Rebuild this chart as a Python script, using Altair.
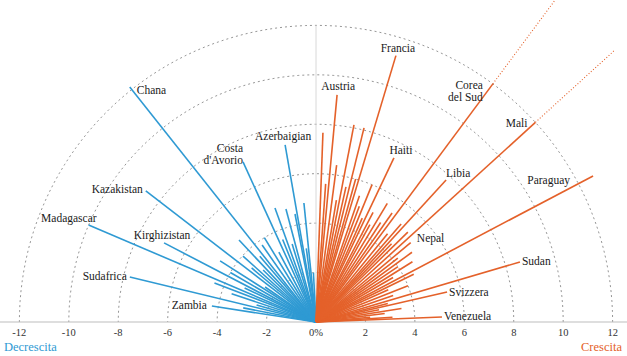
import altair as alt
import pandas as pd

# ---------------- data ----------------
# Decrescita (blue): angle in degrees (0 = right, 180 = left), value = change %
blue_names = ["Zambia", "", "Sudafrica", "", "", "", "Madagascar", "", "Kirghizistan", "", "",
              "", "Kazakistan", "", "", "", "", "", "Chana", "", "", "", "Costa\nd'Avorio", "",
              "", "", "", "", "Azerbaigian", "", "", ""]
blue_angles = [171.3, 169.0, 166.4, 164.0, 161.5, 159.0, 156.9, 154.5, 152.5, 150.0, 147.5,
               145.5, 142.4, 140.0, 137.9, 135.5, 133.2, 130.5, 128.4, 125.0, 121.5, 118.0, 114.5, 112.0,
               109.8, 107.0, 104.9, 101.0, 99.9, 97.5, 95.8, 93.0]
blue_values = [-4.26, -3.0, -7.75, -2.5, -3.6, -4.4, -10.0, -3.2, -6.93, -4.0, -4.6,
               -2.5, -8.69, -3.4, -3.98, -3.0, -4.55, -3.5, -12.13, -3.8, -4.0, -3.2, -7.12, -3.6,
               -4.9, -3.3, -4.73, -4.45, -7.27, -3.0, -4.84, -2.0]

# Crescita (orange)
orange_names = ["Venezuela", "", "", "", "", "", "Svizzera", "", "Sudan", "", "", "", "",
                "Paraguay", "", "", "", "", "", "", "Mali", "Nepal", "", "Libia", "", "",
                "Corea\ndel Sud", "", "", "", "", "", "Haiti", "", "", "", "", "Francia", "",
                "", "", "", "", "", "Austria", "", ""]
orange_angles = [2.3, 3.5, 5.0, 7.0, 9.0, 11.0, 12.9, 14.5, 16.4, 19.0, 21.5, 24.0, 26.0,
                 27.8, 30.0, 32.0, 34.0, 36.0, 38.0, 40.0, 42.3, 44.4, 46.0, 47.5, 49.0, 51.0,
                 53.4, 55.1, 57.0, 59.0, 61.0, 62.5, 64.6, 66.0, 67.8, 69.5, 71.0, 73.3, 74.5,
                 76.1, 77.5, 79.1, 80.5, 82.5, 84.7, 86.0, 87.9]
orange_values = [5.1, 3.1, 2.2, 2.8, 3.5, 2.6, 5.44, 3.0, 8.6, 3.3, 4.0, 3.2, 4.4,
                 12.67, 3.6, 4.6, 4.0, 4.8, 4.2, 5.0, 16.3, 5.2, 4.4, 7.79, 5.25, 4.6,
                 16.8, 5.38, 4.8, 5.6, 4.5, 5.0, 7.35, 4.6, 6.0, 5.0, 5.4, 11.25, 6.0,
                 8.09, 5.6, 8.12, 5.0, 6.4, 9.23, 5.6, 7.66]

tick_values = [-12, -10, -8, -6, -4, -2, 0, 2, 4, 6, 8, 10, 12]
tick_labels = ["-12", "-10", "-8", "-6", "-4", "-2", "0%", "2", "4", "6", "8", "10", "12"]
grid_radii = [2, 4, 6, 8, 10, 12]

# label placement (style): align, dx px, dy px (down positive) from line end
label_style = {
    "Chana": ("left", 7, 4), "Costa\nd'Avorio": ("right", 0, -13), "Azerbaigian": ("center", -2, -8),
    "Kazakistan": ("right", -3, -1), "Madagascar": ("right", 8, -6), "Kirghizistan": ("center", -2, -7),
    "Sudafrica": ("right", -3, 0), "Zambia": ("right", -5, 0),
    "Francia": ("center", 2, -7), "Austria": ("center", 1, -8), "Corea\ndel Sud": ("right", -10, 2),
    "Mali": ("right", -8, 2), "Haiti": ("center", 7, -7), "Libia": ("left", 0, -6),
    "Paraguay": ("right", -23, 5), "Nepal": ("left", 9, 7), "Sudan": ("left", 2, 0),
    "Svizzera": ("left", 2, 1), "Venezuela": ("left", 2, 0),
}

# ---------------- layout ----------------
K = 24.72
CX, CY = 316, 322
W, H = 627, 356
xdom = [-CX / K, (W - CX) / K]
ydom = [-(H - CY) / K, CY / K]
xs = alt.Scale(domain=xdom, nice=False, zero=False)
ys = alt.Scale(domain=ydom, nice=False, zero=False)

BLUE = "#2f9ad3"
ORANGE = "#e4612a"
FONT = "'Liberation Serif', 'DejaVu Serif', serif"

rows = []
for n, a, v in zip(blue_names, blue_angles, blue_values):
    rows.append({"name": n, "angle": a, "value": v, "grp": "neg"})
for n, a, v in zip(orange_names, orange_angles, orange_values):
    rows.append({"name": n, "angle": a, "value": v, "grp": "pos"})
df = pd.DataFrame(rows)
df["align"] = [label_style.get(n, ("none", 0, 0))[0] for n in df["name"]]
df["dx"] = [label_style.get(n, ("none", 0, 0))[1] for n in df["name"]]
df["dy"] = [label_style.get(n, ("none", 0, 0))[2] for n in df["name"]]

base = alt.Chart(df).transform_calculate(
    r="abs(datum.value)",
).transform_calculate(
    rs="datum.r > 13 ? 12 : datum.r",
    c="cos(datum.angle * PI / 180)",
    s="sin(datum.angle * PI / 180)",
).transform_calculate(
    x="datum.rs * datum.c", y="datum.rs * datum.s",
    xe="datum.r * datum.c", ye="datum.r * datum.s",
    x0="0", y0="0",
)

color = alt.Color("grp:N", scale=alt.Scale(domain=["neg", "pos"], range=[BLUE, ORANGE]), legend=None)

rules = base.mark_rule(strokeWidth=1.6, clip=True).encode(
    x=alt.X("x0:Q", scale=xs, axis=None), y=alt.Y("y0:Q", scale=ys, axis=None),
    x2="x:Q", y2="y:Q", color=color,
)
ext = base.transform_filter("datum.r > 13").mark_rule(strokeWidth=1.1, strokeDash=[1, 2], clip=True).encode(
    x=alt.X("x:Q", scale=xs, axis=None), y=alt.Y("y:Q", scale=ys, axis=None),
    x2="xe:Q", y2="ye:Q", color=color,
)

# grid semicircles
rad_fields = {f"r{v}": str(v) for v in grid_radii}
grid = alt.Chart(alt.sequence(0, 181, 2, as_="deg")).transform_calculate(
    **rad_fields
).transform_fold(list(rad_fields.keys()), as_=["rk", "rv"]).transform_calculate(
    gx="toNumber(datum.rv) * cos(datum.deg * PI / 180)",
    gy="toNumber(datum.rv) * sin(datum.deg * PI / 180)",
).mark_line(color="#8a8a8a", strokeWidth=0.9, strokeDash=[2, 3]).encode(
    x=alt.X("gx:Q", scale=xs, axis=None), y=alt.Y("gy:Q", scale=ys, axis=None),
    detail="rk:N", order="deg:Q",
)

axes_df = pd.DataFrame({"v": tick_values, "lab": tick_labels})
one = alt.Chart(pd.DataFrame({"k": [0]}))
baseline = one.transform_calculate(
    a=str(xdom[0]), b=str(xdom[1]), z="0"
).mark_rule(color="#bdbdbd", strokeWidth=1).encode(
    x=alt.X("a:Q", scale=xs, axis=None), x2="b:Q", y=alt.Y("z:Q", scale=ys, axis=None),
)
vline = one.transform_calculate(
    z="0", t="12"
).mark_rule(color="#d8d8d8", strokeWidth=1).encode(
    x=alt.X("z:Q", scale=xs, axis=None), y=alt.Y("z:Q", scale=ys, axis=None), y2="t:Q",
)
ticks = alt.Chart(axes_df).transform_calculate(ty=str(-11 / K)).mark_text(
    font=FONT, fontSize=10.5, color="#333333", baseline="middle").encode(
    x=alt.X("v:Q", scale=xs, axis=None), y=alt.Y("ty:Q", scale=ys, axis=None), text="lab:N",
)

side_df = pd.DataFrame({"t": ["Decrescita", "Crescita"], "xv": [(4 - CX) / K, (622 - CX) / K],
                        "g": ["neg", "pos"]})
dec = alt.Chart(side_df).transform_filter("datum.g == 'neg'").transform_calculate(
    ty=str(-25 / K)).mark_text(
    font=FONT, fontSize=12.5, align="left", baseline="middle", color=BLUE).encode(
    x=alt.X("xv:Q", scale=xs, axis=None), y=alt.Y("ty:Q", scale=ys, axis=None), text="t:N")
cre = alt.Chart(side_df).transform_filter("datum.g == 'pos'").transform_calculate(
    ty=str(-25 / K)).mark_text(
    font=FONT, fontSize=12.5, align="right", baseline="middle", color=ORANGE).encode(
    x=alt.X("xv:Q", scale=xs, axis=None), y=alt.Y("ty:Q", scale=ys, axis=None), text="t:N")

labels = []
for al in ("left", "center", "right"):
    lab = base.transform_filter(f"datum.align == '{al}'").transform_calculate(
        lx=f"datum.x + datum.dx / {K}", ly=f"datum.y - datum.dy / {K}",
    ).mark_text(font=FONT, fontSize=11.5, color="#1a1a1a", align=al, baseline="middle",
                lineBreak="\n", lineHeight=12.5).encode(
        x=alt.X("lx:Q", scale=xs, axis=None), y=alt.Y("ly:Q", scale=ys, axis=None), text="name:N",
    )
    labels.append(lab)

chart = alt.layer(grid, baseline, vline, rules, ext, ticks, dec, cre, *labels).properties(
    width=W, height=H, padding=0, autosize=alt.AutoSizeParams(type="none"),
).configure_view(stroke=None)

chart.save("out.html", embed_options={"renderer": "svg", "actions": False})
